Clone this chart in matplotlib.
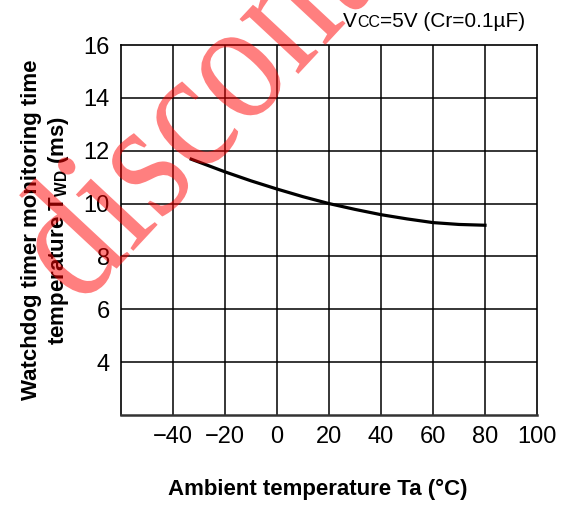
import matplotlib.pyplot as plt
from matplotlib.offsetbox import TextArea, HPacker, AnchoredOffsetbox
from matplotlib.textpath import TextPath
from matplotlib.font_manager import FontProperties
from matplotlib.patches import PathPatch
from matplotlib.transforms import Affine2D

temps = [-33, -20, -10, 0, 10, 20, 30, 40, 50, 60, 70, 80]
t_wd = [11.68, 11.20, 10.86, 10.55, 10.26, 10.00, 9.78, 9.58, 9.42, 9.28, 9.21, 9.18]

x_ticks = [-40, -20, 0, 20, 40, 60, 80, 100]
x_grid = [-40, -20, 0, 20, 40, 60, 80]
y_ticks = [4, 6, 8, 10, 12, 14, 16]

plt.rcParams['font.family'] = ['Liberation Sans', 'DejaVu Sans']
plt.rcParams['mathtext.fontset'] = 'custom'
plt.rcParams['mathtext.rm'] = 'Liberation Sans'
plt.rcParams['mathtext.bf'] = 'Liberation Sans:bold'

fig = plt.figure(figsize=(5.65, 5.05), dpi=100)
ax = fig.add_axes([121 / 565, 1 - 415 / 505, 416 / 565, 370 / 505])

ax.set_xlim(-60, 100)
ax.set_ylim(2, 16)
for xv in x_grid:
    ax.axvline(xv, color='black', lw=1.1, zorder=1)
for yv in y_ticks[:-1]:
    ax.axhline(yv, color='black', lw=1.1, zorder=1)

ax.plot(temps, t_wd, color='black', lw=2.3, zorder=3)

ax.set_xticks(x_ticks)
ax.set_xticklabels([str(v).replace('-', '\u2212') for v in x_ticks])
ax.set_yticks(y_ticks)
ax.tick_params(length=0, labelsize=17, pad=8)
for s in ax.spines.values():
    s.set_linewidth(1.2)
ax.spines['bottom'].set_linewidth(1.8)
ax.spines['bottom'].set_color('#333333')

ax.set_xlabel('Ambient temperature Ta (\u00b0C)', fontsize=16, fontweight='bold', labelpad=22)
ax.xaxis.label.set_x(0.474)
ax.set_ylabel('Watchdog timer monitoring time\ntemperature T$_{\\mathbf{WD}}$ (ms)',
              fontsize=16, fontweight='bold', labelpad=9, linespacing=1.25)

# condition label with small caps "CC"
parts = [TextArea('V', textprops=dict(size=15)),
         TextArea('CC', textprops=dict(size=11.5)),
         TextArea('=5V (Cr=0.1\u00b5F)', textprops=dict(size=15))]
box = HPacker(children=parts, align='baseline', pad=0, sep=0)
anch = AnchoredOffsetbox(loc='lower right', child=box, frameon=False,
                         bbox_to_anchor=(525 / 565, 1 - 31 / 505),
                         bbox_transform=fig.transFigure, borderpad=0, pad=0)
fig.add_artist(anch)

# watermark, drawn in pixel coordinates
wm_path = TextPath((0, 0), 'discontinued', size=1,
                   prop=FontProperties(family='Liberation Serif'))
wm_tr = Affine2D().scale(150, 175).rotate_deg(47).translate(80, 505 - 308)
wm_patch = PathPatch(wm_tr.transform_path(wm_path), facecolor='red', edgecolor='none',
                     alpha=0.5, transform=None, zorder=10)
fig.add_artist(wm_patch)

fig.savefig('out.png', dpi=100)
